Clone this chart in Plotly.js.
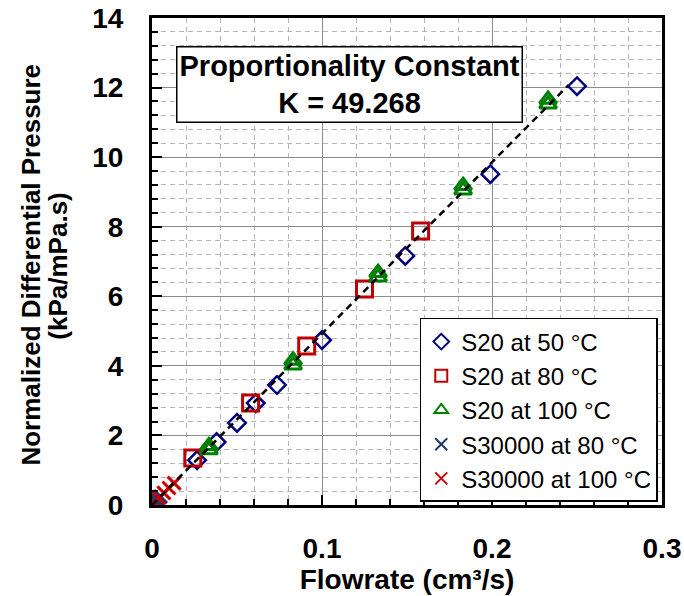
<!DOCTYPE html>
<html>
<head>
<meta charset="utf-8">
<script src="https://cdn.plot.ly/plotly-3.0.1.min.js"></script>
<style>html,body{margin:0;padding:0;background:#fff;}#chart{width:684px;height:596px;}</style>
</head>
<body>
<div id="chart"></div>
<script>
// S20 at 50 °C
const s20_50_x = [0.0265, 0.038, 0.050, 0.061, 0.0735, 0.100, 0.149, 0.199, 0.250];
const s20_50_y = [1.29, 1.81, 2.36, 2.93, 3.45, 4.74, 7.16, 9.51, 12.04];
// S20 at 80 °C
const s20_80_x = [0.024, 0.058, 0.091, 0.125, 0.158];
const s20_80_y = [1.35, 2.93, 4.57, 6.21, 7.88];
// S20 at 100 °C
const s20_100_x = [0.0335, 0.0335, 0.083, 0.083, 0.133, 0.133, 0.183, 0.183, 0.233, 0.233];
const s20_100_y = [1.58, 1.70, 4.02, 4.16, 6.55, 6.68, 9.05, 9.18, 11.52, 11.66];
// S30000 at 80 °C
const s30k_80_x = [0.0005, 0.002, 0.003, 0.005];
const s30k_80_y = [0.03, 0.10, 0.15, 0.24];
// S30000 at 100 °C
const s30k_100_x = [0.001, 0.004, 0.007, 0.010, 0.013];
const s30k_100_y = [0.06, 0.20, 0.35, 0.49, 0.63];
// fitted line
const K = 49.268;
const fit_x = [0, 0.245];
const fit_y = fit_x.map(v => K * v);

const xTicks = [0, 0.1, 0.2, 0.3];
const xTickText = ['0', '0.1', '0.2', '0.3'];
const yTicks = [0, 2, 4, 6, 8, 10, 12, 14];
const yTitleLines = ['Normalized Differential Pressure', '(kPa/mPa.s)'];

const FONT = 'Liberation Sans, Arial, sans-serif';

const traces = [
  {x: s20_50_x, y: s20_50_y, name: 'S20 at 50 °C', mode: 'markers', type: 'scatter',
   marker: {symbol: 'diamond-open', size: 13.5, color: '#000080', line: {width: 2.5, color: '#000080'}}},
  {x: s20_80_x, y: s20_80_y, name: 'S20 at 80 °C', mode: 'markers', type: 'scatter',
   marker: {symbol: 'square-open', size: 16, color: '#C00000', line: {width: 3, color: '#C00000'}}},
  {x: s20_100_x, y: s20_100_y, name: 'S20 at 100 °C', mode: 'markers', type: 'scatter',
   marker: {symbol: 'triangle-up-open', size: 15, color: '#008000', line: {width: 3, color: '#008000'}}},
  {x: s30k_80_x, y: s30k_80_y, name: 'S30000 at 80 °C', mode: 'markers', type: 'scatter',
   marker: {symbol: 'x-thin-open', size: 13, color: '#1F3870', line: {width: 3, color: '#1F3870'}}},
  {x: s30k_100_x, y: s30k_100_y, name: 'S30000 at 100 °C', mode: 'markers', type: 'scatter',
   marker: {symbol: 'x-thin-open', size: 13, color: '#CC0000', line: {width: 3, color: '#CC0000'}}},
  {x: fit_x, y: fit_y, mode: 'lines', type: 'scatter', showlegend: false, hoverinfo: 'skip',
   line: {color: '#000000', width: 2.5, dash: '7px,5px'}}
];

const layout = {
  width: 684, height: 596,
  margin: {l: 152, r: 22, t: 18, b: 91},
  paper_bgcolor: '#ffffff', plot_bgcolor: '#ffffff',
  font: {family: FONT, color: '#000000'},
  showlegend: true,
  legend: {
    x: 0.525, y: 0.384, xanchor: 'left', yanchor: 'top',
    bgcolor: '#ffffff', bordercolor: '#000000', borderwidth: 1.5,
    font: {family: FONT, size: 24, color: '#000000'},
    itemsizing: 'constant', itemwidth: 30
  },
  xaxis: {
    range: [0, 0.3], tickvals: xTicks, ticktext: xTickText,
    showline: true, linecolor: '#000000', linewidth: 3, mirror: true,
    ticks: 'inside', ticklen: 10, tickwidth: 2, tickcolor: '#000000',
    showgrid: true, gridcolor: '#8c8c8c', gridwidth: 1,
    zeroline: false,
    tickfont: {family: FONT, size: 28, color: '#000000', weight: 'bold'},
    ticklabelstandoff: 16,
    minor: {dtick: 0.02, showgrid: true, gridcolor: '#b4b4b4', griddash: '5px,4px', gridwidth: 1,
            ticks: 'inside', ticklen: 6, tickwidth: 2, tickcolor: '#000000'},
    title: {text: 'Flowrate (cm³/s)', font: {family: FONT, size: 28, color: '#000000', weight: 'bold'}, standoff: 2}
  },
  yaxis: {
    range: [0, 14], tickvals: yTicks,
    showline: true, linecolor: '#000000', linewidth: 3, mirror: true,
    ticks: 'inside', ticklen: 10, tickwidth: 2, tickcolor: '#000000',
    showgrid: true, gridcolor: '#8c8c8c', gridwidth: 1,
    zeroline: false,
    tickfont: {family: FONT, size: 28, color: '#000000', weight: 'bold'},
    ticklabelstandoff: 20,
    minor: {dtick: 0.4, showgrid: true, gridcolor: '#b4b4b4', griddash: '5px,4px', gridwidth: 1,
            ticks: 'inside', ticklen: 6, tickwidth: 2, tickcolor: '#000000'}
  },
  annotations: [
    {
      xref: 'paper', yref: 'paper', x: 0.388, y: 0.8635, xanchor: 'center', yanchor: 'middle',
      text: '<b>Proportionality Constant<br>K = 49.268</b>', showarrow: false,
      font: {family: FONT, size: 29, color: '#000000'},
      bgcolor: '#ffffff', bordercolor: '#000000', borderwidth: 1.5, borderpad: 2
    },
    {
      xref: 'paper', yref: 'paper', x: -0.239, y: 0.5, xanchor: 'center', yanchor: 'middle', yshift: -3,
      text: '<b>' + yTitleLines[0] + '</b>', showarrow: false, textangle: -90,
      font: {family: FONT, size: 26, color: '#000000'}
    },
    {
      xref: 'paper', yref: 'paper', x: -0.186, y: 0.5, xanchor: 'center', yanchor: 'middle', yshift: -5,
      text: '<b>' + yTitleLines[1] + '</b>', showarrow: false, textangle: -90,
      font: {family: FONT, size: 26, color: '#000000'}
    }
  ]
};

Plotly.newPlot('chart', traces, layout, {displayModeBar: false, staticPlot: true});
</script>
</body>
</html>
